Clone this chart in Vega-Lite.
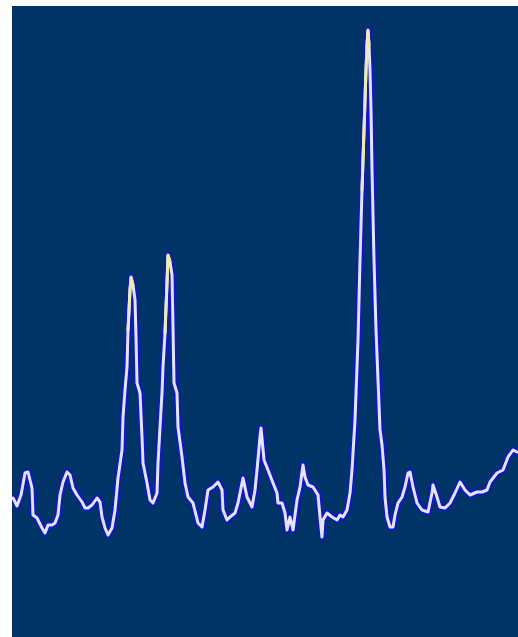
{
  "$schema": "https://vega.github.io/schema/vega-lite/v6.json",
  "width": 506,
  "height": 631,
  "autosize": {"type": "none"},
  "padding": {"left": 12, "top": 6, "right": 0, "bottom": 0},
  "background": "#ffffff",
  "config": {"view": {"fill": "#003366", "stroke": null}},
  "data": {"values": [
    {"x":1,"y":139},{"x":5,"y":131},{"x":9,"y":142},{"x":13,"y":164},{"x":16,"y":165},{"x":20,"y":149},{"x":21,"y":122},{"x":25,"y":119},{"x":30,"y":109},{"x":33,"y":104},{"x":36,"y":112},{"x":40,"y":112},{"x":43,"y":114},{"x":46,"y":122},{"x":48,"y":142},{"x":51,"y":155},{"x":55,"y":165},{"x":58,"y":162},{"x":61,"y":149},{"x":65,"y":142},{"x":70,"y":135},{"x":73,"y":129},{"x":76,"y":129},{"x":80,"y":132},{"x":85,"y":139},{"x":88,"y":135},{"x":90,"y":120},{"x":93,"y":109},{"x":96,"y":102},{"x":100,"y":109},{"x":103,"y":127},{"x":106,"y":159},{"x":110,"y":187},{"x":111,"y":220},{"x":113,"y":247},{"x":115,"y":270},{"x":116,"y":307},{"x":118,"y":347},{"x":119,"y":360},{"x":121,"y":352},{"x":123,"y":337},{"x":124,"y":300},{"x":125,"y":254},{"x":128,"y":244},{"x":130,"y":200},{"x":131,"y":174},{"x":135,"y":154},{"x":138,"y":137},{"x":141,"y":134},{"x":145,"y":144},{"x":146,"y":174},{"x":148,"y":210},{"x":150,"y":244},{"x":151,"y":270},{"x":153,"y":304},{"x":155,"y":354},{"x":156,"y":382},{"x":158,"y":375},{"x":160,"y":362},{"x":161,"y":310},{"x":162,"y":254},{"x":165,"y":244},{"x":166,"y":210},{"x":170,"y":180},{"x":173,"y":154},{"x":176,"y":140},{"x":181,"y":134},{"x":186,"y":114},{"x":190,"y":110},{"x":193,"y":127},{"x":196,"y":147},{"x":201,"y":150},{"x":206,"y":155},{"x":210,"y":147},{"x":211,"y":127},{"x":215,"y":117},{"x":218,"y":120},{"x":223,"y":124},{"x":226,"y":134},{"x":230,"y":154},{"x":231,"y":159},{"x":235,"y":140},{"x":240,"y":130},{"x":243,"y":147},{"x":245,"y":167},{"x":248,"y":200},{"x":249,"y":209},{"x":252,"y":177},{"x":256,"y":167},{"x":261,"y":154},{"x":265,"y":144},{"x":266,"y":134},{"x":270,"y":134},{"x":273,"y":124},{"x":275,"y":107},{"x":278,"y":120},{"x":281,"y":107},{"x":285,"y":137},{"x":288,"y":150},{"x":291,"y":172},{"x":293,"y":160},{"x":296,"y":152},{"x":301,"y":150},{"x":306,"y":142},{"x":308,"y":120},{"x":310,"y":100},{"x":311,"y":117},{"x":315,"y":124},{"x":320,"y":120},{"x":325,"y":117},{"x":328,"y":122},{"x":331,"y":120},{"x":335,"y":127},{"x":338,"y":144},{"x":340,"y":167},{"x":341,"y":184},{"x":343,"y":217},{"x":346,"y":297},{"x":348,"y":377},{"x":350,"y":447},{"x":352,"y":507},{"x":354,"y":567},{"x":355,"y":592},{"x":356,"y":607},{"x":357,"y":592},{"x":358,"y":567},{"x":359,"y":527},{"x":360,"y":467},{"x":362,"y":377},{"x":364,"y":307},{"x":366,"y":257},{"x":368,"y":207},{"x":370,"y":192},{"x":372,"y":167},{"x":373,"y":140},{"x":375,"y":120},{"x":378,"y":110},{"x":381,"y":110},{"x":383,"y":122},{"x":386,"y":134},{"x":390,"y":140},{"x":393,"y":150},{"x":396,"y":164},{"x":398,"y":165},{"x":401,"y":150},{"x":405,"y":134},{"x":410,"y":127},{"x":416,"y":125},{"x":420,"y":144},{"x":421,"y":152},{"x":425,"y":140},{"x":428,"y":130},{"x":433,"y":129},{"x":438,"y":134},{"x":443,"y":144},{"x":448,"y":155},{"x":453,"y":147},{"x":458,"y":142},{"x":465,"y":145},{"x":470,"y":145},{"x":475,"y":147},{"x":478,"y":155},{"x":485,"y":164},{"x":491,"y":167},{"x":496,"y":180},{"x":501,"y":187},{"x":505,"y":185}
  ]},
  "encoding": {
    "x": {"field": "x", "type": "quantitative", "scale": {"domain": [0, 506], "nice": false, "zero": false}, "axis": null},
    "y": {"field": "y", "type": "quantitative", "scale": {"domain": [0, 631], "nice": false}, "axis": null}
  },
  "layer": [
    {"mark": {"type": "line", "color": "#1010f0", "strokeWidth": 6, "strokeJoin": "round", "strokeCap": "round", "clip": true}},
    {"mark": {"type": "line", "color": "#e6e6ff", "strokeWidth": 3, "strokeJoin": "round", "strokeCap": "round", "clip": true}},
    {"transform": [{"filter": "datum.x >= 115 && datum.x <= 121 && datum.y >= 300"}],
     "mark": {"type": "line", "color": "#f2ee96", "strokeWidth": 3, "strokeCap": "round", "clip": true}},
    {"transform": [{"filter": "datum.x >= 153 && datum.x <= 158 && datum.y >= 300"}],
     "mark": {"type": "line", "color": "#f2ee96", "strokeWidth": 3, "strokeCap": "round", "clip": true}},
    {"transform": [{"filter": "datum.x >= 348 && datum.x <= 357 && datum.y >= 447"}],
     "mark": {"type": "line", "color": "#f2ee96", "strokeWidth": 3, "strokeCap": "round", "clip": true}}
  ]
}
